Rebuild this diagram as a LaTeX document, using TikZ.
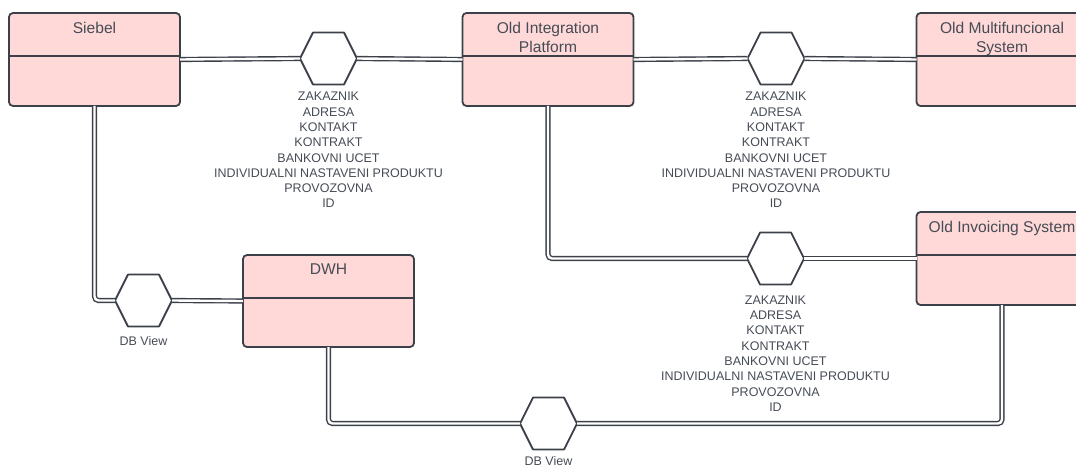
\documentclass[tikz,border=0pt]{standalone}
\usepackage{fontspec}
\setmainfont{Liberation Sans}
\usetikzlibrary{positioning}
\definecolor{boxfill}{HTML}{FFD8D8}
\definecolor{ink}{HTML}{3B4049}
\definecolor{txt}{HTML}{464C55}
\newcommand{\entitylist}{ZAKAZNIK\\ADRESA\\KONTAKT\\KONTRAKT\\BANKOVNI UCET\\INDIVIDUALNI NASTAVENI PRODUKTU\\PROVOZOVNA\\ID}
\tikzset{
  sysbox/.style={draw=ink, fill=boxfill, line width=1.8pt, rounded corners=4pt,
    minimum width=171pt, minimum height=93pt, inner sep=0pt, outer sep=0pt},
  title/.style={font=\fontsize{15.6}{19}\selectfont, text=txt, align=center, inner sep=0pt},
  hexnode/.style={minimum width=57pt, minimum height=52pt, inner sep=0pt, outer sep=0pt},
  hexline/.style={draw=ink, line width=1.8pt, line join=round},
  link/.style={draw=ink, line width=1.4pt, double=white, double distance=2.4pt, rounded corners=4pt},
  tag/.style={font=\fontsize{12.5}{15.3}\selectfont, text=txt, align=center, inner sep=0pt}
}
\begin{document}
\begin{tikzpicture}[x=1pt, y=-1pt]
  \useasboundingbox (0,0) rectangle (1076,468);
  \clip (0,0) rectangle (1076,468);
  \node[sysbox, label={[title, anchor=north, yshift=-8.5pt]north:Siebel}] (siebel) at (94.5,59.5) {};
  \node[sysbox, label={[title, anchor=north, yshift=-8.5pt]north:Old Integration\\Platform}] (oip) at (548,59.5) {};
  \node[sysbox, label={[title, anchor=north, yshift=-8.5pt]north:Old Multifuncional\\System}] (oms) at (1002,59.5) {};
  \node[sysbox, label={[title, anchor=north, yshift=-8.5pt]north:Old Invoicing System}] (ois) at (1002,258.5) {};
  \node[sysbox, minimum height=92pt, label={[title, anchor=north, yshift=-8.5pt]north:DWH}] (dwh) at (328.5,301) {};
  \foreach \b in {siebel,oip,oms,ois,dwh}
    \draw[ink, line width=1.8pt] ([yshift=-43pt]\b.north west) -- ([yshift=-43pt]\b.north east);

  \node[hexnode] (h1) at (328.5,58.5) {};
  \node[hexnode] (h2) at (776,58.5) {};
  \node[hexnode] (h3) at (775.5,258.5) {};
  \node[hexnode] (h4) at (143.5,300.5) {};
  \node[hexnode] (h5) at (548.5,423.5) {};
  \foreach \h in {h1,h2,h3,h4,h5}
    \draw[hexline] (\h.west) -- ([xshift=13pt]\h.north west) -- ([xshift=-13pt]\h.north east)
      -- (\h.east) -- ([xshift=-13pt]\h.south east) -- ([xshift=13pt]\h.south west) -- cycle;

  \foreach \a/\b in {siebel.east/h1.west, h1.east/oip.west, oip.east/h2.west, h2.east/oms.west,
    h3.east/ois.west, h4.east/dwh.west}
    \draw[link] (\a) -- (\b);
  \draw[link] (oip.south) |- (h3.west);
  \draw[link] (siebel.south) |- (h4.west);
  \draw[link] (dwh.south) |- (h5.west);
  \draw[link] (h5.east) -| (ois.south);

  \node[tag, below=7.5pt of h1] (t1) {\entitylist};
  \node[tag, below=7.5pt of h2] (t2) {\entitylist};
  \node[tag, below=11pt of h3] (t3) {\entitylist};
  \node[tag, below=10pt of h4] (t4) {DB View};
  \node[tag, below=7pt of h5] (t5) {DB View};
\end{tikzpicture}
\end{document}
